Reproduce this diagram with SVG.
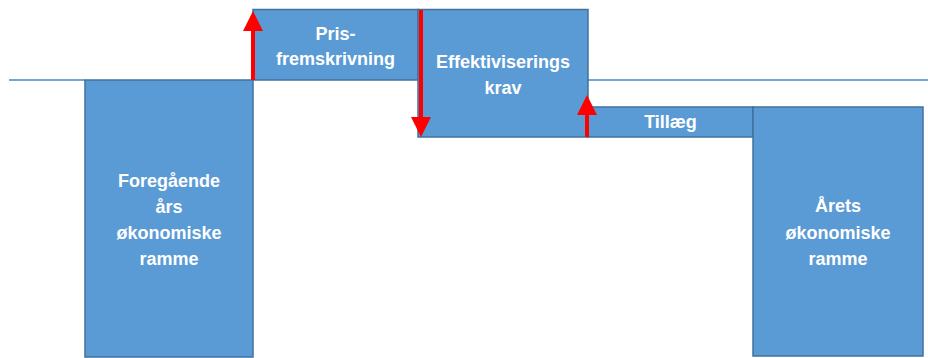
<svg xmlns="http://www.w3.org/2000/svg" width="928" height="358" viewBox="0 0 928 358">
<style>
.box{fill:#5b9bd5;stroke:#41719c;stroke-width:1.5}
.lbl{font-family:"Liberation Sans",Arial,sans-serif;font-size:18px;font-weight:bold;fill:#ffffff;text-anchor:middle}
.base{stroke:#6fa7db;stroke-width:2;fill:none}
.arr{stroke:#ff0000;stroke-width:4;fill:none;marker-end:url(#head)}
</style>
<defs>
<marker id="head" viewBox="0 0 20 20" refX="0" refY="10" markerWidth="20" markerHeight="20" markerUnits="userSpaceOnUse" orient="auto">
<path d="M0,0 L20,10 L0,20 z" fill="#ff0000"/>
</marker>
</defs>
<line class="base" x1="9" y1="80" x2="85" y2="80"/>
<line class="base" x1="588" y1="80" x2="928" y2="80"/>
<g id="foregaaende">
<rect class="box" x="85" y="80" width="168" height="277"/>
<text class="lbl"><tspan x="169" y="187">Foregående</tspan><tspan x="169" y="213">års</tspan><tspan x="169" y="239">økonomiske</tspan><tspan x="169" y="265">ramme</tspan></text>
</g>
<g id="pris">
<rect class="box" x="253" y="9.5" width="165" height="70.5"/>
<text class="lbl"><tspan x="335.5" y="40">Pris-</tspan><tspan x="335.5" y="65">fremskrivning</tspan></text>
</g>
<g id="effektivisering">
<rect class="box" x="418" y="9.5" width="170" height="127.5"/>
<text class="lbl"><tspan x="503" y="68">Effektiviserings</tspan><tspan x="503" y="94">krav</tspan></text>
</g>
<g id="tillaeg">
<rect class="box" x="588" y="107" width="165" height="30"/>
<text class="lbl" x="670.5" y="128">Tillæg</text>
</g>
<g id="aarets">
<rect class="box" x="753" y="107" width="170" height="249"/>
<text class="lbl"><tspan x="838" y="212">Årets</tspan><tspan x="838" y="239">økonomiske</tspan><tspan x="838" y="265">ramme</tspan></text>
</g>
<g id="connectors">
<line class="arr" x1="253" y1="80" x2="253" y2="31"/>
<line class="arr" x1="421" y1="10" x2="421" y2="117"/>
<line class="arr" x1="587" y1="137" x2="587" y2="115"/>
</g>
</svg>
